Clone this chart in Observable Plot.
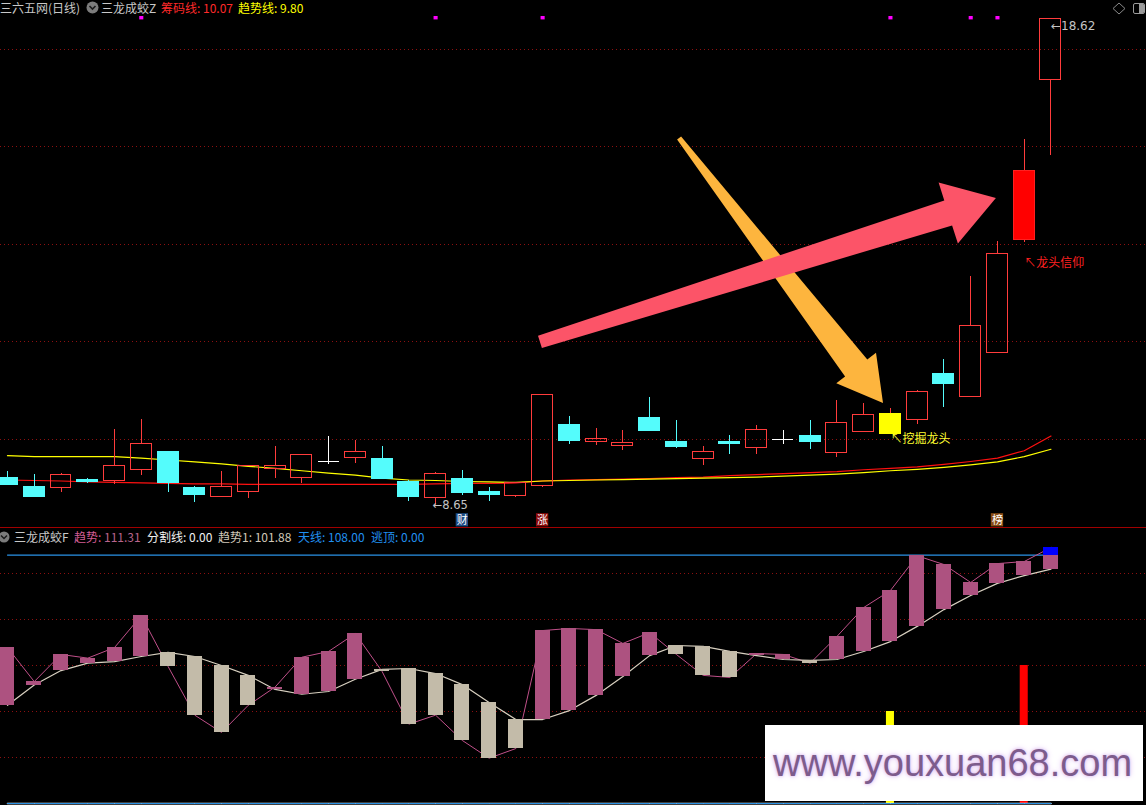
<!DOCTYPE html>
<html><head><meta charset="utf-8">
<script src="https://cdn.jsdelivr.net/npm/d3@7"></script>
<script src="https://cdn.jsdelivr.net/npm/@observablehq/plot@0.6"></script>
<style>
html,body{margin:0;padding:0;background:#000;}
#root{position:relative;width:1146px;height:805px;overflow:hidden;background:#000;font-family:"Noto Sans CJK SC","Noto Sans",sans-serif;}
.hdr{position:relative;height:16px;font-size:12px;white-space:nowrap;color:#c8c8c8;}
.hdr span.t{position:absolute;top:0;line-height:16px;}
#hdr2{height:18px;border-top:1px solid #a00000;box-sizing:border-box;}
#hdr2 span.t{line-height:17px;}
svg{display:block;}
#wm{position:absolute;left:765px;top:725px;width:378px;height:76px;background:#fff;box-sizing:border-box;padding-left:8px;
 font-family:"Liberation Sans",Arial,sans-serif;font-size:38px;line-height:76px;color:#7d5c8c;
 text-shadow:0 0 3px #d6b0ee,0 0 6px #e4c8f4;white-space:nowrap;}
</style></head>
<body>
<div id="root">
  <div class="hdr" id="hdr1">
    <span class="t" style="left:0">三六五网(日线)</span>
    <svg style="position:absolute;left:86px;top:1px" width="13" height="13"><circle cx="6.5" cy="6.5" r="6" fill="#7c7c7c"/><polyline points="3.5,5 6.5,8 9.5,5" fill="none" stroke="#1a1a1a" stroke-width="1.6"/></svg>
    <span class="t" style="left:101px">三龙成蛟Z</span>
    <span class="t" style="left:161px;color:#ff2a2a">筹码线: 10.07</span>
    <span class="t" style="left:238px;color:#ffff00">趋势线: 9.80</span>
    <svg style="position:absolute;left:1112px;top:2px" width="14" height="13"><polygon points="7,1 13,6.5 7,12 1,6.5" fill="none" stroke="#8a8a8a" stroke-width="1"/></svg>
    <div style="position:absolute;left:1133px;top:3px;width:10px;height:9px;border:1px solid #9a9a9a;border-radius:2px;overflow:hidden"><div style="position:absolute;right:0;top:0;width:5px;height:9px;background:#9a9a9a"></div></div>
  </div>
  <div id="top"></div>
  <div class="hdr" id="hdr2">
    <svg style="position:absolute;left:-2px;top:3px" width="12" height="12"><circle cx="6" cy="6" r="5.5" fill="#7c7c7c"/><polyline points="3,4.5 6,7.5 9,4.5" fill="none" stroke="#1a1a1a" stroke-width="1.5"/></svg>
    <span class="t" style="left:14px">三龙成蛟F</span>
    <span class="t" style="left:74px;color:#d45d95">趋势: <span style="color:#b8648c">111.31</span></span>
    <span class="t" style="left:147px;color:#f0f0f0">分割线: 0.00</span>
    <span class="t" style="left:218px;color:#d0c8b8">趋势1: 101.88</span>
    <span class="t" style="left:298px;color:#2090f0">天线: 108.00</span>
    <span class="t" style="left:371px;color:#2090f0">逃顶: 0.00</span>
  </div>
  <div id="bottom"></div>
  <div id="wm">www.youxuan68.com</div>
</div>
<script>
// ---------- data ----------
const candleIndex = d3.range(1, 41);
const open  = [9.22,9.02,9.00,9.18,9.14,9.37,9.75,9.00,8.83,8.93,9.39,9.22,9.55,9.63,9.61,9.12,8.81,9.20,8.93,8.85,
               9.04,10.29,9.94,9.86,10.45,9.94,9.61,9.94,9.82,10.00,10.08,9.73,10.16,10.12,10.39,11.35,10.88,11.78,14.08,17.36];
const high  = [9.34,9.28,9.30,9.20,10.20,10.41,9.75,9.04,9.34,9.45,9.86,9.69,10.06,9.98,9.86,9.16,9.32,9.36,9.02,9.10,
               10.92,10.47,10.23,10.18,10.86,10.39,9.86,10.08,10.29,10.18,10.39,10.80,10.74,10.64,11.00,11.64,13.34,14.06,16.15,18.62];
const low   = [9.06,8.83,8.91,9.10,9.08,9.26,8.91,8.71,8.83,8.79,9.20,9.10,9.49,9.51,9.20,8.73,8.65,8.85,8.73,8.81,
               9.02,9.90,9.88,9.77,10.18,9.82,9.47,9.69,9.69,9.90,9.80,9.63,10.16,10.12,10.31,10.66,10.88,11.78,14.04,15.82];
const close = [9.06,8.83,9.28,9.12,9.45,9.90,9.10,8.87,9.02,9.45,9.45,9.69,9.55,9.75,9.20,8.83,9.30,8.91,8.87,9.10,
               10.92,9.96,10.02,9.92,10.18,9.84,9.75,9.90,10.20,10.00,9.94,10.33,10.51,10.53,10.98,11.13,12.32,13.81,15.51,18.62];
// 筹码线 (red) and 趋势线 (yellow)
const chipLine  = [9.17,9.16,9.15,9.13,9.12,9.11,9.10,9.09,9.09,9.08,9.08,9.08,9.08,9.08,9.08,9.08,9.09,9.10,9.10,9.11,
                   9.15,9.17,9.18,9.19,9.20,9.22,9.23,9.26,9.28,9.30,9.32,9.34,9.38,9.41,9.44,9.49,9.55,9.62,9.77,10.07];
const trendLine = [9.67,9.65,9.65,9.65,9.65,9.62,9.58,9.54,9.50,9.45,9.41,9.36,9.31,9.27,9.21,9.17,9.16,9.14,9.13,9.12,
                   9.15,9.16,9.17,9.18,9.19,9.20,9.21,9.22,9.23,9.25,9.27,9.29,9.32,9.36,9.39,9.43,9.48,9.54,9.65,9.80];
const digSignal   = [34];            // 挖掘龙头 (yellow candle)
const faithSignal = [39];            // 龙头信仰 (solid red candle)
const topDotIndex = [6, 17, 21, 34, 37, 38];
const topDotLevel = 18.65;
const badgeIndex = [18, 21, 38];
const badgeText  = ["财", "涨", "榜"];
const badgeColor = ["#1d4c84", "#8c0a0a", "#8a4c14"];
const gridTop = [10, 12, 14, 16, 18];

// lower panel 三龙成蛟F
const trendF  = [67.8,53.0,64.8,63.2,67.8,81.7,59.6,38.4,30.9,42.7,50.6,63.6,66.1,73.9,57.4,34.5,38.4,27.4,19.7,23.9,
                 75.2,76.1,75.6,69.6,74.3,64.8,55.7,54.8,65.2,64.8,61.0,72.6,85.2,92.6,107.7,103.9,96.1,104.3,105.2,111.31];
const trend1F = [42.7,51.5,57.8,61.0,61.7,63.9,65.7,63.9,60.0,55.7,49.6,47.5,48.7,54.0,58.3,58.7,56.5,51.7,43.9,36.5,
                 36.5,40.4,47.0,55.2,64.3,68.7,68.3,66.1,64.3,62.6,62.2,62.6,66.1,70.4,77.0,84.3,90.4,95.7,99.1,101.88];
const skyLine = 108;      // 天线
const splitLine = 0;      // 分割线
const escapeTop = 0;      // 逃顶
const yellowBarIndex = [34], yellowBarValue = [40];
const redBarIndex = [39],    redBarValue = [60];
const gridBottom = [20, 40, 60, 80, 100];

// annotation arrows (anchored in data space: [candle index, price])
const annotationArrows = [
  {tail:[26.12,16.17], tip:[33.74,10.74], fill:"#fdb53e", tailHalf:2.5, baseHalf:14, headHalf:25, headLen:44},
  {tail:[20.92,11.99], tip:[37.96,14.94], fill:"#fc5468", tailHalf:6.5, baseHalf:13, headHalf:32, headLen:50}
];

// ---------- build ----------
const W = 1146;
const xDomain = [0.7384, 43.57];
const candles = candleIndex.map((i,k)=>{
  const o=open[k], c=close[k];
  let kind = c>o ? "up" : c<o ? "down" : "flat";
  if (digSignal.includes(i)) kind = "dig";
  if (faithSignal.includes(i)) kind = "faith";
  return {i,o,c,h:high[k],l:low[k],kind,top:Math.max(o,c),bot:Math.min(o,c)};
});
const stroke = {up:"#ff3c3c", down:"#54fcfc", flat:"#ffffff", dig:"#ffff00", faith:"#ff2020"};
const fill   = {up:"none", down:"#54fcfc", flat:"none", dig:"#ffff00", faith:"#ff0000"};
const wick   = {up:"#ff3c3c", down:"#54fcfc", flat:"#ffffff", dig:"#ff3c3c", faith:"#ff3c3c"};
const HW = 0.392;
const lineData = candleIndex.map((i,k)=>({i, chip:chipLine[k], trend:trendLine[k]}));

const topMarks = [
  Plot.ruleY(gridTop, {stroke:"#8c1010", strokeDasharray:"1,3", shapeRendering:"crispEdges"}),
  Plot.line(lineData, {x:"i", y:"chip", stroke:"#ff1010", strokeWidth:1.2}),
  Plot.line(lineData, {x:"i", y:"trend", stroke:"#ffff00", strokeWidth:1.2})
];
for (const kind of ["up","down","flat","dig","faith"]) {
  const ds = candles.filter(d=>d.kind===kind);
  topMarks.push(
    Plot.ruleX(ds, {x:"i", y1:"top", y2:"h", stroke:wick[kind], shapeRendering:"crispEdges"}),
    Plot.ruleX(ds, {x:"i", y1:"l", y2:"bot", stroke:wick[kind], shapeRendering:"crispEdges"})
  );
  const bodies = ds.filter(d=>d.top>d.bot);
  topMarks.push(Plot.rect(bodies, {x1:d=>d.i-HW, x2:d=>d.i+HW, y1:"bot", y2:"top", fill:fill[kind], stroke:stroke[kind], shapeRendering:"crispEdges"}));
  const flats = ds.filter(d=>d.top===d.bot);
  topMarks.push(Plot.ruleY(flats, {y:"c", x1:d=>d.i-HW, x2:d=>d.i+HW, stroke:stroke[kind], shapeRendering:"crispEdges"}));
}
topMarks.push(
  Plot.dot(topDotIndex, {x:d=>d, y:()=>topDotLevel, symbol:"square", r:2.3, fill:"#ff00ff", stroke:null}),
  Plot.text([candles[16]], {x:"i", y:"l", text:d=>"←"+d.l.toFixed(2), textAnchor:"start", dx:-3, dy:0, fill:"#c4c4c4", fontSize:11.5, fontFamily:"DejaVu Sans"}),
  Plot.text([candles[39]], {x:"i", y:"h", text:d=>"←"+d.h.toFixed(2), textAnchor:"start", dx:0, dy:7, fill:"#c4c4c4", fontSize:12, fontFamily:"DejaVu Sans"}),
  Plot.text(candles.filter(d=>d.kind==="dig"), {x:"i", y:"l", text:()=>"↖挖掘龙头", textAnchor:"start", dx:0, dy:6, fill:"#ffff30", fontSize:12, fontFamily:"Noto Sans CJK SC"}),
  Plot.text(candles.filter(d=>d.kind==="faith"), {x:"i", y:"l", text:()=>"↖龙头信仰", textAnchor:"start", dx:0, dy:21, fill:"#ff2020", fontSize:12, fontFamily:"Noto Sans CJK SC"}),
  Plot.rect(badgeIndex, {x1:d=>d-0.23, x2:d=>d+0.23, y1:()=>8.21, y2:()=>8.48, fill:(d,k)=>badgeColor[k]}),
  Plot.text(badgeIndex, {x:d=>d, y:()=>8.345, text:(d,k)=>badgeText[k], fill:"#ffffff", fontSize:11, fontFamily:"Noto Sans CJK SC"})
);

const topPlot = Plot.plot({
  width: W, height: 511, margin: 0,
  x: {domain: xDomain, axis: null},
  y: {domain: [8.197, 18.668], axis: null},
  color: {type: "identity"},
  style: {background: "#000"},
  marks: topMarks
});
document.getElementById("top").appendChild(topPlot);

// arrows through the plot's own scales
{
  const sx = topPlot.scale("x"), sy = topPlot.scale("y");
  const X = d3.scaleLinear(sx.domain, sx.range), Y = d3.scaleLinear(sy.domain, sy.range);
  const g = d3.select(topPlot).append("g");
  for (const a of annotationArrows) {
    const x0=X(a.tail[0]), y0=Y(a.tail[1]), x1=X(a.tip[0]), y1=Y(a.tip[1]);
    const dx=x1-x0, dy=y1-y0, L=Math.hypot(dx,dy), ux=dx/L, uy=dy/L, nx=-uy, ny=ux;
    const bx=x1-ux*a.headLen, by=y1-uy*a.headLen;
    const pts=[[x0+nx*a.tailHalf,y0+ny*a.tailHalf],[bx+nx*a.baseHalf,by+ny*a.baseHalf],[bx+nx*a.headHalf,by+ny*a.headHalf],[x1,y1],
               [bx-nx*a.headHalf,by-ny*a.headHalf],[bx-nx*a.baseHalf,by-ny*a.baseHalf],[x0-nx*a.tailHalf,y0-ny*a.tailHalf]];
    g.append("path").attr("d","M"+pts.map(p=>p[0].toFixed(1)+","+p[1].toFixed(1)).join("L")+"Z").attr("fill",a.fill);
  }
}

// ---------- lower panel ----------
const bars = candleIndex.map((i,k)=>({i, t:trendF[k], t1:trend1F[k], lo:Math.min(trendF[k],trend1F[k]), hi:Math.max(trendF[k],trend1F[k]), up:trendF[k]>=trend1F[k]}));
const BW = 0.28;
const bottomPlot = Plot.plot({
  width: W, height: 260, margin: 0,
  x: {domain: xDomain, axis: null},
  y: {domain: [-0.87, 112.17], axis: null},
  style: {background: "#000"},
  marks: [
    Plot.ruleY(gridBottom, {stroke:"#8c1010", strokeDasharray:"1,3", shapeRendering:"crispEdges"}),
    Plot.rect(yellowBarIndex, {x1:d=>d-0.15, x2:d=>d+0.15, y1:()=>0, y2:(d,k)=>yellowBarValue[k], fill:"#ffff00"}),
    Plot.rect(redBarIndex, {x1:d=>d-0.15, x2:d=>d+0.15, y1:()=>0, y2:(d,k)=>redBarValue[k], fill:"#ff0000"}),
    Plot.line(candleIndex, {x:d=>d, y:()=>skyLine, stroke:"#2a92e6", strokeWidth:1.2}),
    Plot.line(candleIndex, {x:d=>d, y:()=>splitLine, stroke:"#ffffff", strokeWidth:1.5}),
    Plot.line(candleIndex, {x:d=>d, y:()=>escapeTop, stroke:"#2a92e6", strokeWidth:1}),
    Plot.line(bars, {x:"i", y:"t", stroke:"#c0508a", strokeWidth:1}),
    Plot.line(bars, {x:"i", y:"t1", stroke:"#d8d0c0", strokeWidth:1.2}),
    Plot.rect(bars.filter(d=>d.up), {x1:d=>d.i-BW, x2:d=>d.i+BW, y1:"lo", y2:d=>Math.min(d.hi, Math.max(skyLine, d.lo)), fill:"#ad5280", shapeRendering:"crispEdges"}),
    Plot.rect(bars.filter(d=>!d.up), {x1:d=>d.i-BW, x2:d=>d.i+BW, y1:"lo", y2:"hi", fill:"#c3bba9", shapeRendering:"crispEdges"}),
    Plot.rect(bars.filter(d=>d.t>skyLine), {x1:d=>d.i-BW, x2:d=>d.i+BW, y1:()=>skyLine, y2:"t", fill:"#0000ff", shapeRendering:"crispEdges"})
  ]
});
document.getElementById("bottom").appendChild(bottomPlot);
</script>
</body></html>
